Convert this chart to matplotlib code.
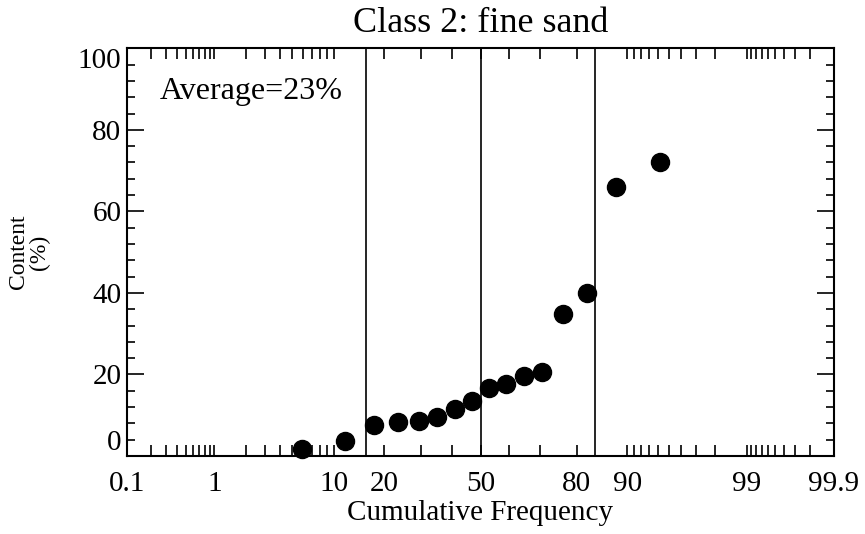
import numpy as np
import matplotlib
matplotlib.use("Agg")
import matplotlib.pyplot as plt
from statistics import NormalDist

# sorted fine-sand contents (%) of 16 samples
content = [1.7, 3.7, 7.6, 8.3, 8.7, 9.6, 11.5, 13.6, 16.7, 17.7, 19.7, 20.6,
           34.8, 39.9, 66.1, 72.1]
n = len(content)
cum_freq = [100.0 * (i + 1) / (n + 1) for i in range(n)]
sigma_lines = [15.87, 50.0, 84.13]
major_ticks = [0.1, 1, 10, 20, 50, 80, 90, 99, 99.9]
tick_labels = ["0.1", "1", "10", "20", "50", "80", "90", "99", "99.9"]
minor_ticks = ([0.2, 0.3, 0.4, 0.5, 0.6, 0.7, 0.8, 0.9]
               + [2, 3, 4, 5, 6, 7, 8, 9] + [30, 40, 60, 70]
               + [91, 92, 93, 94, 95, 96, 97, 98]
               + [99.1, 99.2, 99.3, 99.4, 99.5, 99.6, 99.7, 99.8])
title = "Class 2: fine sand"
note = "Average=23%"

_nd = NormalDist()


def probit(p):
    p = np.clip(np.asarray(p, dtype=float) / 100.0, 1e-9, 1 - 1e-9)
    return np.vectorize(_nd.inv_cdf)(p)


def inv_probit(z):
    return 100.0 * np.vectorize(_nd.cdf)(np.asarray(z, dtype=float))


plt.rcParams["font.family"] = "Liberation Serif"

fig = plt.figure(figsize=(8.65, 5.34), dpi=100)
ax = fig.add_axes([0.1468, 0.146, 0.8174, 0.7636])
ax.set_xscale("function", functions=(probit, inv_probit))

for p in sigma_lines:
    ax.axvline(p, color="black", lw=1.2)
ax.plot(cum_freq, content, "o", color="black", ms=13, clip_on=False)

ax.set_xlim(0.1, 99.9)
ax.set_ylim(0, 100)

ax.set_xticks(major_ticks)
ax.set_xticklabels(tick_labels, fontsize=21)
ax.set_xticks(minor_ticks, minor=True)
ax.set_yticks([0, 20, 40, 60, 80, 100])
ax.set_yticks(np.arange(0, 101, 4), minor=True)
ylabels = ax.set_yticklabels(["0", "20", "40", "60", "80", "100"], fontsize=21)
ylabels[0].set_va("bottom")
ylabels[-1].set_va("top")

ax.tick_params(axis="both", which="both", direction="in", top=True, right=True,
               width=1.2, colors="black")
ax.tick_params(axis="x", which="both", length=8, pad=11)
ax.tick_params(axis="y", which="major", length=12, pad=4)
ax.tick_params(axis="y", which="minor", length=6)
for s in ax.spines.values():
    s.set_linewidth(1.5)

ax.set_title(title, fontsize=26, pad=12)
ax.set_xlabel("Cumulative Frequency", fontsize=21, labelpad=2)
ax.set_ylabel("Content\n(%)", fontsize=17, linespacing=1.0, labelpad=20)
ax.text(0.047, 0.893, note, transform=ax.transAxes, fontsize=23, va="center")

fig.savefig("out.png", dpi=100)
